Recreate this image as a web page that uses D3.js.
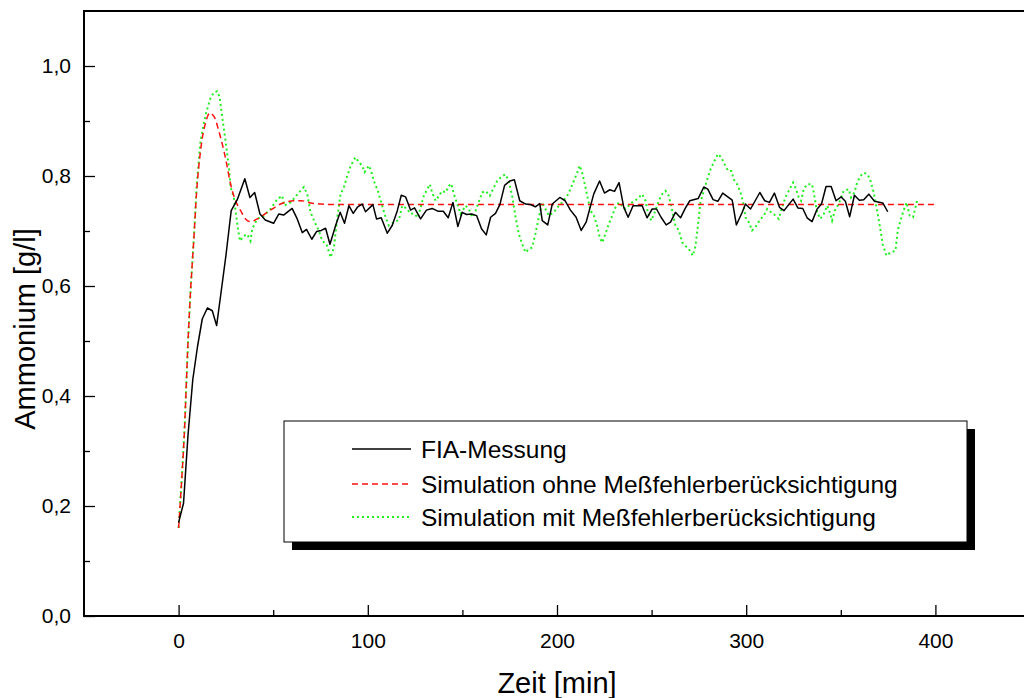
<!DOCTYPE html>
<html>
<head>
<meta charset="utf-8">
<script src="https://cdn.jsdelivr.net/npm/d3@7"></script>
<style>
  html, body { margin: 0; padding: 0; background: #fff; }
  svg { display: block; font-family: "Liberation Sans", Arial, Helvetica, sans-serif; }
</style>
</head>
<body>
<svg id="chart" width="1024" height="698"></svg>
<script>
// FIA-Messung: measured ammonium concentration [g/l] over time [min]
const fiaTime = [0, 2.6, 5, 7.5, 10, 12.5, 15.2, 17.8, 20.1, 22.5, 25, 27.8, 31, 35, 37.7, 40.2, 43, 45.8, 50.2, 53, 55.5, 60, 62.7, 65.4, 67.6, 70.4, 72.9, 75.4, 77.7, 80, 83, 85.4, 87.7, 90, 92.3, 94.7, 97, 98.8, 102.7, 104.6, 107.1, 110.3, 112.9, 115.6, 117.7, 120, 122.6, 124.7, 127.9, 131, 134, 137, 139.9, 142.5, 145, 147.6, 149.9, 152.2, 154.8, 157.5, 160.1, 162.6, 164.9, 167.5, 169.8, 172.3, 175.1, 177.5, 180.3, 183.4, 186, 188.6, 190.9, 192.2, 195.1, 197.5, 201.5, 204.3, 207.1, 210.1, 212.8, 215.4, 219.4, 222.5, 225.1, 227.9, 230.4, 232.8, 235.3, 237.6, 240.2, 245, 247.6, 250.3, 252.6, 255, 257.7, 260, 262.6, 265.3, 267.9, 270.2, 274.6, 277.6, 279.7, 282.5, 285, 287.6, 292.6, 294.8, 297.9, 299.6, 302.3, 307.2, 309.8, 312.3, 314.9, 317.6, 320, 322.5, 324.8, 327.3, 329.9, 332.2, 334.8, 337.5, 339.8, 342.2, 344.9, 347.5, 350.2, 352.4, 354.7, 357.2, 359.8, 362.1, 364.8, 367.8, 372.2, 374.8];
const fiaValue = [0.17, 0.205, 0.33, 0.43, 0.49, 0.54, 0.56, 0.555, 0.528, 0.59, 0.655, 0.737, 0.757, 0.795, 0.761, 0.77, 0.731, 0.72, 0.714, 0.731, 0.729, 0.741, 0.722, 0.697, 0.703, 0.685, 0.699, 0.701, 0.705, 0.676, 0.71, 0.734, 0.714, 0.746, 0.732, 0.744, 0.749, 0.735, 0.748, 0.722, 0.724, 0.696, 0.71, 0.737, 0.765, 0.762, 0.738, 0.742, 0.722, 0.738, 0.741, 0.736, 0.736, 0.724, 0.752, 0.708, 0.734, 0.73, 0.731, 0.728, 0.704, 0.693, 0.725, 0.732, 0.748, 0.783, 0.791, 0.793, 0.755, 0.749, 0.748, 0.744, 0.75, 0.719, 0.711, 0.749, 0.761, 0.755, 0.738, 0.725, 0.701, 0.716, 0.767, 0.791, 0.769, 0.775, 0.772, 0.788, 0.743, 0.725, 0.746, 0.746, 0.724, 0.74, 0.74, 0.725, 0.711, 0.716, 0.734, 0.724, 0.742, 0.755, 0.759, 0.78, 0.776, 0.757, 0.754, 0.769, 0.756, 0.711, 0.734, 0.749, 0.74, 0.77, 0.755, 0.752, 0.769, 0.743, 0.737, 0.748, 0.758, 0.742, 0.741, 0.724, 0.717, 0.74, 0.749, 0.781, 0.781, 0.755, 0.762, 0.754, 0.726, 0.765, 0.756, 0.757, 0.767, 0.754, 0.751, 0.735];

// Simulation ohne Meßfehlerberücksichtigung
const simTime = [0, 1.5, 3, 5, 6.3, 7.2, 8.1, 9.5, 11.6, 13, 14.3, 15.5, 16.5, 17.8, 19.5, 21, 22.2, 24, 25.4, 27.5, 30.1, 32.8, 35.4, 38, 41.6, 46.9, 53.9, 60.9, 65, 69.7, 75, 80.3, 100, 200, 300, 400];
const simValue = [0.16, 0.24, 0.33, 0.5, 0.59, 0.64, 0.688, 0.77, 0.846, 0.878, 0.897, 0.91, 0.915, 0.912, 0.903, 0.885, 0.87, 0.845, 0.822, 0.785, 0.755, 0.737, 0.722, 0.717, 0.722, 0.734, 0.749, 0.755, 0.755, 0.751, 0.749, 0.748, 0.748, 0.748, 0.748, 0.748];

// Simulation mit Meßfehlerberücksichtigung
const noisyTime = [0, 1.5, 3, 5, 6.3, 7.2, 8.1, 9.5, 11.6, 14.3, 16.9, 18.7, 20.4, 21.7, 23.1, 24.8, 26.6, 27.5, 29.2, 31, 32.4, 34.5, 36.3, 38, 38.9, 41.6, 45.1, 48.6, 52.2, 54.8, 55.7, 59.2, 63.6, 66.2, 68, 69.7, 72.4, 74.1, 75.9, 78.2, 80.3, 82.1, 83.9, 85.6, 87.3, 89.1, 90.9, 93.5, 95.3, 97, 98.3, 100.6, 101.8, 103.2, 105.3, 107.6, 109.4, 111.1, 113.8, 116.4, 118.2, 120.8, 122.6, 124.3, 126.5, 127.9, 129.6, 131.4, 132.8, 134, 135.8, 137.6, 139.3, 141.1, 142.8, 144.1, 145.5, 147.3, 149, 151.7, 153.4, 155.2, 157, 158.2, 160.5, 162.2, 164.5, 166.6, 168.4, 171, 172.8, 174.5, 176.3, 178.1, 179.8, 181.6, 183.4, 185.1, 186.9, 188.6, 190.4, 192.2, 193.9, 195.7, 198.3, 201, 202.7, 205.4, 207.1, 208.9, 210.7, 212, 213.3, 214.5, 216, 217.7, 219.5, 221.2, 222.6, 223.9, 225.6, 227.4, 229.2, 230.9, 232.7, 234.4, 236.2, 237.9, 239.7, 242.4, 245, 246.8, 248, 249.8, 252, 253.8, 255.6, 257.3, 259.1, 260.9, 262.6, 264.4, 266.2, 267.9, 269.7, 271.8, 273.2, 274.4, 275.8, 277.6, 279.4, 281.1, 282.9, 285, 286.8, 288.5, 290.5, 292.2, 293.4, 295.2, 297, 298.4, 299.6, 301.4, 303.1, 304.9, 307, 309.3, 311.1, 313.2, 315.5, 317.2, 319, 320.7, 322.5, 324.8, 326, 327.8, 329, 330.4, 332.2, 334.8, 335.7, 337.5, 339.2, 341, 342.8, 344.5, 345.4, 346.8, 348.9, 351.5, 354.2, 355.4, 357.2, 358.6, 360.4, 362.1, 364.2, 365.7, 367.4, 369.5, 371, 372.2, 374.1, 376.2, 378.9, 380.1, 381.5, 382.9, 384.7, 386.4, 388.2, 390.3];
const noisyValue = [0.16, 0.24, 0.33, 0.5, 0.59, 0.64, 0.69, 0.78, 0.864, 0.912, 0.942, 0.952, 0.954, 0.943, 0.906, 0.864, 0.815, 0.779, 0.761, 0.713, 0.682, 0.691, 0.694, 0.682, 0.704, 0.722, 0.728, 0.74, 0.758, 0.764, 0.746, 0.752, 0.77, 0.78, 0.767, 0.734, 0.713, 0.701, 0.682, 0.676, 0.652, 0.67, 0.725, 0.767, 0.779, 0.8, 0.818, 0.834, 0.825, 0.819, 0.807, 0.819, 0.809, 0.791, 0.773, 0.746, 0.725, 0.71, 0.716, 0.72, 0.746, 0.74, 0.731, 0.732, 0.724, 0.743, 0.764, 0.776, 0.785, 0.77, 0.755, 0.764, 0.773, 0.77, 0.782, 0.786, 0.767, 0.749, 0.731, 0.746, 0.74, 0.725, 0.737, 0.749, 0.77, 0.773, 0.764, 0.779, 0.791, 0.8, 0.803, 0.791, 0.764, 0.725, 0.695, 0.676, 0.661, 0.667, 0.67, 0.695, 0.725, 0.752, 0.74, 0.728, 0.734, 0.746, 0.752, 0.764, 0.776, 0.791, 0.806, 0.819, 0.806, 0.788, 0.764, 0.737, 0.728, 0.71, 0.688, 0.679, 0.695, 0.713, 0.728, 0.743, 0.752, 0.746, 0.74, 0.746, 0.752, 0.758, 0.767, 0.755, 0.734, 0.719, 0.737, 0.755, 0.767, 0.773, 0.764, 0.737, 0.71, 0.701, 0.679, 0.673, 0.667, 0.655, 0.673, 0.707, 0.752, 0.773, 0.794, 0.812, 0.825, 0.84, 0.834, 0.822, 0.809, 0.809, 0.794, 0.785, 0.77, 0.752, 0.725, 0.716, 0.701, 0.707, 0.719, 0.728, 0.74, 0.734, 0.728, 0.722, 0.743, 0.761, 0.773, 0.788, 0.779, 0.761, 0.755, 0.776, 0.785, 0.785, 0.77, 0.734, 0.722, 0.731, 0.746, 0.731, 0.719, 0.737, 0.749, 0.773, 0.776, 0.761, 0.77, 0.788, 0.8, 0.806, 0.803, 0.791, 0.77, 0.731, 0.701, 0.676, 0.655, 0.661, 0.664, 0.701, 0.719, 0.734, 0.752, 0.728, 0.725, 0.755];

const xMajorTicks = [0, 100, 200, 300, 400];
const xMinorTicks = [50, 150, 250, 350];
const yMajorTicks = [0, 0.2, 0.4, 0.6, 0.8, 1.0];
const yMinorTicks = [0.1, 0.3, 0.5, 0.7, 0.9];

const seriesNames = ["FIA-Messung", "Simulation ohne Meßfehlerberücksichtigung", "Simulation mit Meßfehlerberücksichtigung"];

const svg = d3.select("#chart");
const plot = { left: 84, top: 11, right: 1030, bottom: 616 };

const x = d3.scaleLinear().domain([-50, 450]).range([plot.left, plot.right]);
const y = d3.scaleLinear().domain([0, 1.1]).range([plot.bottom, plot.top]);

const fmt = d => d3.format(".1f")(d).replace(".", ",");

// Axes with inward ticks
const xAxis = svg.append("g").attr("transform", `translate(0,${plot.bottom})`);
xAxis.call(d3.axisBottom(x).tickValues(xMinorTicks).tickSize(-6).tickFormat(""));
xAxis.call(g => g.append("g").call(d3.axisBottom(x).tickValues(xMajorTicks).tickSize(-11).tickPadding(17).tickFormat(d3.format("d"))));

const yAxis = svg.append("g").attr("transform", `translate(${plot.left},0)`);
yAxis.call(d3.axisLeft(y).tickValues(yMinorTicks).tickSize(-6).tickFormat(""));
yAxis.call(g => g.append("g").call(d3.axisLeft(y).tickValues(yMajorTicks).tickSize(-11).tickPadding(13).tickFormat(fmt)));

svg.selectAll(".domain").remove();
svg.selectAll(".tick line").attr("stroke", "#000").attr("stroke-width", 1.3);
svg.selectAll(".tick text").attr("font-size", 21).attr("fill", "#000")
  .attr("font-family", "'Liberation Sans', Arial, sans-serif");

// Frame: left, bottom and top lines
const frame = svg.append("g").attr("stroke", "#000").attr("stroke-width", 2).attr("fill", "none");
frame.append("line").attr("x1", plot.left).attr("x2", plot.left).attr("y1", plot.top).attr("y2", plot.bottom);
frame.append("line").attr("x1", plot.left - 1).attr("x2", 1024).attr("y1", plot.bottom).attr("y2", plot.bottom);
frame.append("line").attr("x1", plot.left - 1).attr("x2", 1024).attr("y1", plot.top).attr("y2", plot.top);

// Axis titles
svg.append("text").attr("x", 557).attr("y", 693).attr("text-anchor", "middle")
  .attr("font-size", 29).text("Zeit [min]");
svg.append("text").attr("transform", "translate(35,329) rotate(-90)").attr("text-anchor", "middle")
  .attr("font-size", 29).text("Ammonium [g/l]");

// Series
const toPoints = (ts, vs) => ts.map((t, i) => [t, vs[i]]);
const line = d3.line().x(d => x(d[0])).y(d => y(d[1]));
const smooth = d3.line().x(d => x(d[0])).y(d => y(d[1])).curve(d3.curveMonotoneX);

const styles = [
  { color: "#000000", width: 1.5, dash: null },
  { color: "#ff1010", width: 1.5, dash: "6,4" },
  { color: "#22ee22", width: 2, dash: "2,3" }
];

svg.append("path").datum(toPoints(noisyTime, noisyValue))
  .attr("d", line).attr("fill", "none")
  .attr("stroke", styles[2].color).attr("stroke-width", styles[2].width).attr("stroke-dasharray", styles[2].dash);
svg.append("path").datum(toPoints(simTime, simValue))
  .attr("d", smooth).attr("fill", "none")
  .attr("stroke", styles[1].color).attr("stroke-width", styles[1].width).attr("stroke-dasharray", styles[1].dash);
svg.append("path").datum(toPoints(fiaTime, fiaValue))
  .attr("d", line).attr("fill", "none")
  .attr("stroke", styles[0].color).attr("stroke-width", styles[0].width).attr("stroke-linejoin", "round");

// Legend with drop shadow
const lg = svg.append("g");
const box = { x: 284, y: 421, w: 683, h: 121 };
lg.append("rect").attr("x", box.x + 8).attr("y", box.y + 8).attr("width", box.w).attr("height", box.h).attr("fill", "#000");
lg.append("rect").attr("x", box.x).attr("y", box.y).attr("width", box.w).attr("height", box.h)
  .attr("fill", "#fff").attr("stroke", "#000").attr("stroke-width", 1);
const rowY = [449, 484, 517];
seriesNames.forEach((name, i) => {
  const s = styles[i];
  lg.append("line").attr("x1", 352).attr("x2", 411).attr("y1", rowY[i]).attr("y2", rowY[i])
    .attr("stroke", s.color).attr("stroke-width", s.width).attr("stroke-dasharray", s.dash);
  lg.append("text").attr("x", 421).attr("y", rowY[i]).attr("dy", "0.36em")
    .attr("font-size", 24.5).text(name);
});
</script>
</body>
</html>
